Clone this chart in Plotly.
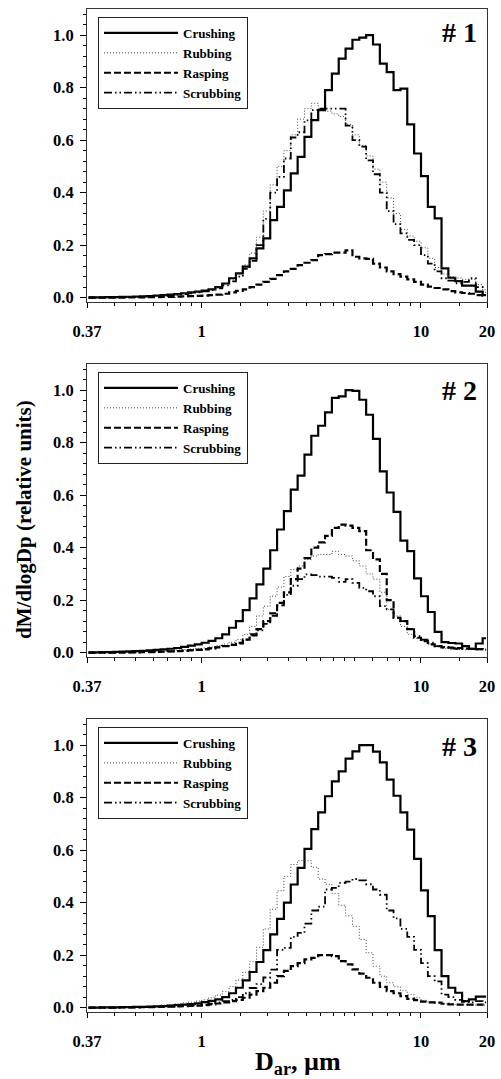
import plotly.graph_objects as go

# Aerodynamic diameter channel midpoints (µm), 32 channels per decade
diam_um = [0.3050, 0.3278, 0.3523, 0.3786, 0.4068, 0.4371, 0.4698, 0.5048, 0.5425,
           0.5829, 0.6264, 0.6732, 0.7234, 0.7774, 0.8354, 0.8977, 0.9647,
           1.037, 1.114, 1.197, 1.286, 1.382, 1.486, 1.596, 1.715, 1.843, 1.981,
           2.129, 2.288, 2.458, 2.642, 2.839, 3.051, 3.278, 3.523, 3.786, 4.068,
           4.371, 4.698, 5.048, 5.425, 5.829, 6.264, 6.732, 7.234, 7.774, 8.354,
           8.977, 9.647, 10.37, 11.14, 11.97, 12.86, 13.82, 14.86, 15.96, 17.15,
           18.43, 19.81]

# Sample #1
crushing_1 = [0.001, 0.001, 0.001, 0.002, 0.002, 0.003, 0.003, 0.004, 0.005, 0.006, 0.008, 0.010, 0.012, 0.014, 0.017, 0.020, 0.023,
              0.027, 0.032, 0.040, 0.054, 0.074, 0.093, 0.118, 0.150, 0.188, 0.226,
              0.295, 0.346, 0.409, 0.473, 0.536, 0.612, 0.676, 0.714, 0.790, 0.853,
              0.910, 0.948, 0.982, 0.990, 1.000, 0.964, 0.891, 0.859, 0.790, 0.796,
              0.660, 0.549, 0.463, 0.346, 0.302, 0.112, 0.076, 0.063, 0.046, 0.046, 0.023, 0.010]
rubbing_1 = [0.000, 0.000, 0.001, 0.001, 0.001, 0.002, 0.002, 0.003, 0.004, 0.005, 0.006, 0.008, 0.010, 0.012, 0.015, 0.018, 0.021,
             0.025, 0.031, 0.040, 0.052, 0.068, 0.090, 0.125, 0.170, 0.230, 0.330,
             0.430, 0.500, 0.560, 0.620, 0.680, 0.720, 0.740, 0.720, 0.710, 0.700,
             0.690, 0.660, 0.620, 0.580, 0.540, 0.490, 0.440, 0.380, 0.320, 0.260,
             0.235, 0.215, 0.190, 0.150, 0.115, 0.090, 0.080, 0.075, 0.070, 0.070, 0.050, 0.030]
rasping_1 = [0.000, 0.000, 0.000, 0.000, 0.000, 0.000, 0.001, 0.001, 0.001, 0.002, 0.002, 0.003, 0.003, 0.004, 0.005, 0.006, 0.007,
             0.008, 0.010, 0.012, 0.015, 0.020, 0.026, 0.032, 0.040, 0.050, 0.060,
             0.072, 0.086, 0.100, 0.110, 0.124, 0.133, 0.143, 0.162, 0.166, 0.172,
             0.172, 0.180, 0.156, 0.150, 0.148, 0.130, 0.115, 0.100, 0.090, 0.080,
             0.070, 0.060, 0.050, 0.042, 0.037, 0.032, 0.025, 0.020, 0.018, 0.015, 0.010, 0.008]
scrubbing_1 = [0.000, 0.000, 0.001, 0.001, 0.001, 0.002, 0.002, 0.003, 0.004, 0.005, 0.006, 0.007, 0.009, 0.011, 0.014, 0.017, 0.020,
               0.024, 0.029, 0.036, 0.047, 0.062, 0.080, 0.110, 0.140, 0.200, 0.300,
               0.400, 0.460, 0.530, 0.610, 0.630, 0.675, 0.714, 0.720, 0.720, 0.720,
               0.720, 0.655, 0.600, 0.575, 0.523, 0.470, 0.400, 0.330, 0.280, 0.245,
               0.220, 0.200, 0.162, 0.130, 0.100, 0.074, 0.065, 0.055, 0.060, 0.074, 0.040, 0.020]

# Sample #2
crushing_2 = [0.001, 0.001, 0.002, 0.002, 0.003, 0.004, 0.005, 0.006, 0.007, 0.009, 0.011, 0.013, 0.015, 0.018, 0.022, 0.027, 0.032,
              0.038, 0.045, 0.055, 0.070, 0.095, 0.120, 0.162, 0.207, 0.260, 0.320,
              0.390, 0.469, 0.539, 0.621, 0.674, 0.754, 0.826, 0.864, 0.915, 0.970,
              0.976, 1.000, 0.997, 0.963, 0.906, 0.814, 0.690, 0.610, 0.536, 0.427,
              0.387, 0.283, 0.215, 0.155, 0.079, 0.040, 0.037, 0.035, 0.025, 0.015, 0.035, 0.055]
rubbing_2 = [0.000, 0.000, 0.001, 0.001, 0.001, 0.002, 0.002, 0.003, 0.004, 0.005, 0.006, 0.007, 0.008, 0.010, 0.012, 0.014, 0.016,
             0.018, 0.022, 0.027, 0.033, 0.040, 0.050, 0.070, 0.100, 0.140, 0.177,
             0.215, 0.250, 0.290, 0.317, 0.330, 0.355, 0.368, 0.374, 0.374, 0.386,
             0.374, 0.368, 0.350, 0.330, 0.300, 0.280, 0.230, 0.165, 0.140, 0.100,
             0.070, 0.055, 0.045, 0.032, 0.022, 0.017, 0.013, 0.012, 0.012, 0.012, 0.011, 0.010]
rasping_2 = [0.000, 0.000, 0.000, 0.000, 0.000, 0.000, 0.001, 0.001, 0.002, 0.002, 0.003, 0.004, 0.005, 0.006, 0.007, 0.009, 0.011,
             0.013, 0.016, 0.020, 0.025, 0.030, 0.035, 0.050, 0.070, 0.090, 0.120,
             0.150, 0.190, 0.230, 0.280, 0.320, 0.360, 0.400, 0.420, 0.445, 0.475,
             0.488, 0.484, 0.475, 0.463, 0.390, 0.355, 0.300, 0.200, 0.133, 0.120,
             0.090, 0.057, 0.044, 0.032, 0.025, 0.020, 0.019, 0.018, 0.016, 0.015, 0.014, 0.013]
scrubbing_2 = [0.000, 0.000, 0.000, 0.000, 0.000, 0.001, 0.001, 0.001, 0.002, 0.002, 0.003, 0.004, 0.005, 0.006, 0.008, 0.010, 0.012,
               0.014, 0.017, 0.021, 0.026, 0.032, 0.038, 0.050, 0.065, 0.085, 0.110,
               0.140, 0.180, 0.220, 0.255, 0.280, 0.298, 0.295, 0.290, 0.290, 0.285,
               0.270, 0.280, 0.266, 0.247, 0.234, 0.215, 0.177, 0.165, 0.133, 0.120,
               0.090, 0.063, 0.050, 0.038, 0.025, 0.022, 0.017, 0.015, 0.015, 0.014, 0.013, 0.012]

# Sample #3
crushing_3 = [0.000, 0.000, 0.001, 0.001, 0.001, 0.002, 0.002, 0.003, 0.003, 0.004, 0.005, 0.006, 0.008, 0.010, 0.012, 0.014, 0.017,
              0.021, 0.026, 0.032, 0.040, 0.055, 0.076, 0.104, 0.136, 0.174, 0.219,
              0.279, 0.338, 0.400, 0.469, 0.532, 0.605, 0.680, 0.744, 0.805, 0.862,
              0.900, 0.948, 0.976, 1.000, 1.000, 0.975, 0.934, 0.868, 0.807, 0.744,
              0.678, 0.567, 0.447, 0.349, 0.219, 0.120, 0.076, 0.057, 0.025, 0.032, 0.042, 0.042]
rubbing_3 = [0.000, 0.001, 0.001, 0.001, 0.002, 0.002, 0.003, 0.004, 0.005, 0.006, 0.008, 0.010, 0.012, 0.015, 0.018, 0.021, 0.025,
             0.030, 0.038, 0.048, 0.062, 0.080, 0.105, 0.135, 0.175, 0.230, 0.300,
             0.375, 0.445, 0.500, 0.545, 0.560, 0.560, 0.535, 0.490, 0.470, 0.435,
             0.390, 0.350, 0.310, 0.260, 0.209, 0.158, 0.120, 0.095, 0.080, 0.065,
             0.050, 0.038, 0.028, 0.022, 0.018, 0.015, 0.013, 0.012, 0.011, 0.010, 0.010, 0.010]
rasping_3 = [0.000, 0.000, 0.000, 0.000, 0.000, 0.001, 0.001, 0.001, 0.002, 0.002, 0.003, 0.003, 0.004, 0.005, 0.006, 0.007, 0.008,
             0.010, 0.013, 0.016, 0.020, 0.025, 0.030, 0.038, 0.050, 0.063, 0.076,
             0.095, 0.120, 0.140, 0.158, 0.170, 0.184, 0.190, 0.200, 0.200, 0.196,
             0.177, 0.165, 0.146, 0.130, 0.114, 0.095, 0.079, 0.063, 0.055, 0.044,
             0.034, 0.029, 0.023, 0.020, 0.019, 0.015, 0.013, 0.012, 0.012, 0.012, 0.012, 0.012]
scrubbing_3 = [0.000, 0.000, 0.000, 0.000, 0.000, 0.001, 0.001, 0.001, 0.002, 0.002, 0.003, 0.004, 0.005, 0.006, 0.007, 0.008, 0.010,
               0.012, 0.015, 0.020, 0.025, 0.030, 0.040, 0.055, 0.075, 0.090, 0.115,
               0.145, 0.220, 0.228, 0.270, 0.285, 0.320, 0.370, 0.385, 0.450, 0.456,
               0.475, 0.480, 0.490, 0.485, 0.470, 0.450, 0.430, 0.370, 0.340, 0.300,
               0.270, 0.220, 0.170, 0.120, 0.100, 0.050, 0.040, 0.030, 0.022, 0.020, 0.025, 0.020]

sample_labels = ["# 1", "# 2", "# 3"]
series_names = ["Crushing", "Rubbing", "Rasping", "Scrubbing"]
panel_data = [
    [crushing_1, rubbing_1, rasping_1, scrubbing_1],
    [crushing_2, rubbing_2, rasping_2, scrubbing_2],
    [crushing_3, rubbing_3, rasping_3, scrubbing_3],
]

x_tick_vals = [0.3, 1, 10, 20]
x_tick_text = ["0.37", "1", "10", "20"]
x_minor_vals = [0.4, 0.5, 0.6, 0.7, 0.8, 0.9, 1.5, 2, 2.5, 3, 3.5, 4, 4.5, 5, 6, 7, 8, 9, 15]
y_tick_vals = [0, 0.2, 0.4, 0.6, 0.8, 1.0]
y_tick_text = ["0.0", "0.2", "0.4", "0.6", "0.8", "1.0"]

line_styles = {
    "Crushing": dict(color="black", width=2.2, dash="solid"),
    "Rubbing": dict(color="#404040", width=1.0, dash="1px,2px"),
    "Rasping": dict(color="black", width=2.2, dash="7px,3px"),
    "Scrubbing": dict(color="black", width=1.8, dash="8px,3px,1.5px,3px,1.5px,3px"),
}

SERIF = "Liberation Serif, Times New Roman, serif"
W, H = 501, 1079

# panel rectangles in pixels: (top, bottom)
x_left, x_right = 87, 487
panel_px = [(9.3, 301.7), (364.3, 656.7), (719.3, 1011.7)]
hash_y = [0.92, 0.909, 0.906]
legend_top_px = [17, 372, 727]

fig = go.Figure()

for i, series in enumerate(panel_data):
    n = i + 1
    sfx = "" if n == 1 else str(n)
    for name, vals in zip(series_names, series):
        fig.add_trace(go.Scatter(
            x=diam_um, y=vals, mode="lines", name=name,
            line=dict(shape="hvh", **line_styles[name]),
            xaxis="x" + sfx, yaxis="y" + sfx,
            legend="legend" + sfx,
            showlegend=True,
        ))

    top, bot = panel_px[i]
    xdom = [x_left / W, x_right / W]
    ydom = [(H - bot) / H, (H - top) / H]

    fig.layout["xaxis" + sfx] = dict(
        type="log", domain=xdom, anchor="y" + sfx,
        range=[-0.52288, 1.30103],
        tickmode="array", tickvals=x_tick_vals, ticktext=x_tick_text,
        ticks="outside", ticklen=5, tickwidth=1, tickcolor="black",
        ticklabelstandoff=9,
        minor=dict(tickmode="array", tickvals=x_minor_vals, ticks="outside",
                   ticklen=3, tickwidth=1, tickcolor="black", showgrid=False),
        showline=True, linecolor="#333333", linewidth=1, mirror=True,
        showgrid=False, zeroline=False,
        tickfont=dict(family=SERIF, size=16.5, color="black", weight="bold"),
    )
    fig.layout["yaxis" + sfx] = dict(
        domain=ydom, anchor="x" + sfx,
        range=[-0.0152, 1.098],
        tickmode="array", tickvals=y_tick_vals, ticktext=y_tick_text,
        ticks="outside", ticklen=6, tickwidth=1, tickcolor="black",
        ticklabelstandoff=3,
        minor=dict(dtick=0.04, tick0=0, ticks="outside", ticklen=3,
                   tickwidth=1, tickcolor="black", showgrid=False),
        showline=True, linecolor="#333333", linewidth=1, mirror=True,
        showgrid=False, zeroline=False,
        tickfont=dict(family=SERIF, size=16.5, color="black", weight="bold"),
    )
    fig.layout["legend" + sfx] = dict(
        x=98 / W, y=(H - legend_top_px[i]) / H, xanchor="left", yanchor="top",
        xref="paper", yref="paper",
        bgcolor="white", bordercolor="#222222", borderwidth=1,
        font=dict(family=SERIF, size=13, color="black", weight="bold"),
        itemwidth=74, tracegroupgap=0, traceorder="normal",
    )
    fig.add_annotation(
        text=sample_labels[i], xref="x" + sfx + " domain", yref="y" + sfx + " domain",
        x=0.98, y=hash_y[i], xanchor="right", yanchor="middle", showarrow=False,
        font=dict(family=SERIF, size=28, color="black", weight="bold"),
    )

fig.add_annotation(
    text="dM/dlogDp (relative units)", textangle=-90,
    xref="paper", yref="paper", x=24 / W, y=(H - 520) / H,
    xanchor="center", yanchor="middle", showarrow=False,
    font=dict(family=SERIF, size=21, color="black", weight="bold"),
)
fig.add_annotation(
    text="D<sub>ar</sub>, µm",
    xref="paper", yref="paper", x=298 / W, y=(H - 1063) / H,
    xanchor="center", yanchor="middle", showarrow=False,
    font=dict(family=SERIF, size=26, color="black", weight="bold"),
)

fig.update_layout(
    width=W, height=H,
    margin=dict(l=0, r=0, t=0, b=0),
    paper_bgcolor="white", plot_bgcolor="white",
    template="none",
)

fig.write_html("out.html")
